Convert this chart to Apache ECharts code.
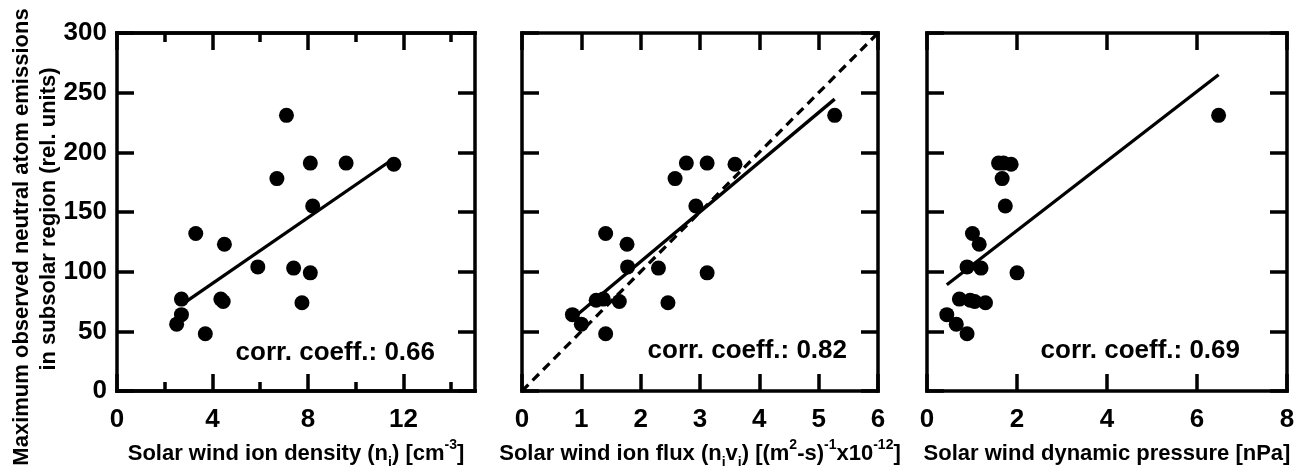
<!DOCTYPE html>
<html>
<head>
<meta charset="utf-8">
<script src="https://cdn.jsdelivr.net/npm/echarts@6/dist/echarts.min.js"></script>
<style>
  html, body { margin: 0; padding: 0; background: #fff; }
  #chart { width: 1302px; height: 466px; }
</style>
</head>
<body>
<div id="chart"></div>
<script>
// Maximum ENA emissions vs. three solar wind parameters
const emissionTicks = [0, 50, 100, 150, 200, 250, 300];

// Panel 1: ion density (cm^-3)
const density = [7.1, 8.1, 9.6, 11.6, 6.7, 8.2, 3.3, 4.5, 5.9, 7.4, 8.1, 4.35, 2.7, 4.45, 7.75, 2.7, 2.5, 3.7];
const emissionsDensity = [231, 191, 191, 190, 178, 155, 132, 123, 104, 103, 99, 77, 77, 75, 74, 64, 56, 48];
const densityFit = [[2.68, 72], [11.54, 194]];
const densityLabelTicks = [0, 4, 8, 12];
const densityMinorTicks = [2, 6, 10, 14];

// Panel 2: ion flux ((m^2 s)^-1 x 10^-12)
const flux = [5.27, 2.77, 3.12, 3.59, 2.58, 2.93, 1.41, 1.77, 1.78, 2.30, 3.12, 1.25, 1.37, 1.64, 2.46, 0.85, 1.0, 1.41];
const emissionsFlux = [231, 191, 191, 190, 178, 155, 132, 123, 104, 103, 99, 76, 77, 75, 74, 64, 56, 48];
const fluxFit = [[0.92, 63.5], [5.27, 244.6]];
const fluxUnity = [[0, 0], [6, 300]];
const fluxTicks = [0, 1, 2, 3, 4, 5, 6];

// Panel 3: dynamic pressure (nPa)
const pressure = [6.48, 1.59, 1.70, 1.87, 1.67, 1.74, 1.01, 1.16, 0.89, 1.20, 2.0, 0.72, 0.96, 1.06, 1.30, 0.44, 0.65, 0.89];
const emissionsPressure = [231, 191, 191, 190, 178, 155, 132, 123, 104, 103, 99, 77, 76, 75, 74, 64, 56, 48];
const pressureFit = [[0.44, 89], [6.48, 265]];
const pressureTicks = [0, 2, 4, 6, 8];

const corrCoeffs = ['0.66', '0.82', '0.69'];

const FONT = "'Liberation Sans', Arial, Helvetica, sans-serif";
const BLACK = '#000';
const LINE_W = 3.5;

const grids = [
  { left: 117, top: 33, width: 358, height: 358, outerBoundsMode: 'none', containLabel: false },
  { left: 522, top: 33, width: 356, height: 358, outerBoundsMode: 'none', containLabel: false },
  { left: 927, top: 33, width: 360, height: 358, outerBoundsMode: 'none', containLabel: false }
];

const titleRich = {
  sub: { fontSize: 14, fontWeight: 'bold', fontFamily: FONT, color: BLACK, lineHeight: 14, verticalAlign: 'bottom' },
  sup: { fontSize: 14, fontWeight: 'bold', fontFamily: FONT, color: BLACK, lineHeight: 14, verticalAlign: 'top' }
};

function xAxis(g, position, max, ticks, len, labels, name) {
  return {
    type: 'value', gridIndex: g, position: position, min: 0, max: max,
    axisLine: { show: true, onZero: false, lineStyle: { color: BLACK, width: LINE_W, cap: 'square' } },
    axisTick: { show: true, inside: true, length: len, customValues: ticks, lineStyle: { color: BLACK, width: LINE_W } },
    axisLabel: labels ? {
      show: true, customValues: labels, margin: 16, fontSize: 26, fontWeight: 'bold',
      fontFamily: FONT, color: BLACK, hideOverlap: false
    } : { show: false },
    splitLine: { show: false },
    name: name || '', nameLocation: 'middle', nameGap: 46,
    nameTextStyle: { fontSize: 22, fontWeight: 'bold', fontFamily: FONT, color: BLACK, lineHeight: 32, rich: titleRich }
  };
}

function yAxis(g, position, labels) {
  return {
    type: 'value', gridIndex: g, position: position, min: 0, max: 300,
    axisLine: { show: true, onZero: false, lineStyle: { color: BLACK, width: LINE_W, cap: 'square' } },
    axisTick: { show: true, inside: true, length: 17, customValues: emissionTicks, lineStyle: { color: BLACK, width: LINE_W } },
    axisLabel: labels ? {
      show: true, customValues: emissionTicks, margin: 10, fontSize: 26, fontWeight: 'bold',
      fontFamily: FONT, color: BLACK
    } : { show: false },
    splitLine: { show: false }
  };
}

const xAxes = [
  // panel 1
  xAxis(0, 'bottom', 15, densityLabelTicks, 17, densityLabelTicks, 'Solar wind ion density (n{sub|i}) [cm{sup|-3}]'),
  xAxis(0, 'bottom', 15, densityMinorTicks, 9, null),
  xAxis(0, 'top', 15, densityLabelTicks, 17, null),
  xAxis(0, 'top', 15, densityMinorTicks, 9, null),
  // panel 2
  xAxis(1, 'bottom', 6, fluxTicks, 17, fluxTicks, 'Solar wind ion flux (n{sub|i}v{sub|i}) [(m{sup|2}-s){sup|-1}x10{sup|-12}]'),
  xAxis(1, 'top', 6, fluxTicks, 17, null),
  // panel 3
  xAxis(2, 'bottom', 8, pressureTicks, 17, pressureTicks, 'Solar wind dynamic pressure [nPa]'),
  xAxis(2, 'top', 8, pressureTicks, 17, null)
];

const yAxes = [
  yAxis(0, 'left', true), yAxis(0, 'right', false),
  yAxis(1, 'left', false), yAxis(1, 'right', false),
  yAxis(2, 'left', false), yAxis(2, 'right', false)
];

function pairs(xs, ys) { return xs.map((x, i) => [x, ys[i]]); }

function line(xi, yi, data, dashed) {
  return {
    type: 'line', xAxisIndex: xi, yAxisIndex: yi, data: data, symbol: 'none',
    lineStyle: { color: BLACK, width: 3.3, type: dashed ? [9, 6] : 'solid' },
    silent: true, animation: false, z: 2
  };
}

function dots(xi, yi, data) {
  return {
    type: 'scatter', xAxisIndex: xi, yAxisIndex: yi, data: data,
    symbol: 'circle', symbolSize: 15, itemStyle: { color: BLACK, opacity: 1 },
    animation: false, z: 3
  };
}

const series = [
  line(0, 0, densityFit, false),
  dots(0, 0, pairs(density, emissionsDensity)),
  line(4, 2, fluxUnity, true),
  line(4, 2, fluxFit, false),
  dots(4, 2, pairs(flux, emissionsFlux)),
  line(6, 4, pressureFit, false),
  dots(6, 4, pairs(pressure, emissionsPressure))
];

const corrPos = [[435, 353], [847, 351], [1240, 351]];
const graphic = corrCoeffs.map((c, i) => ({
  type: 'text', x: corrPos[i][0], y: corrPos[i][1], z: 10,
  style: {
    text: 'corr. coeff.: ' + c, font: 'bold 26px ' + FONT, fill: BLACK,
    textAlign: 'right', textVerticalAlign: 'middle'
  }
}));
graphic.push({
  type: 'text', x: 22, y: 237, rotation: Math.PI / 2, z: 10,
  style: {
    text: 'Maximum observed neutral atom emissions', font: 'bold 22px ' + FONT, fill: BLACK,
    textAlign: 'center', textVerticalAlign: 'middle'
  }
});
graphic.push({
  type: 'text', x: 49, y: 219, rotation: Math.PI / 2, z: 10,
  style: {
    text: 'in subsolar region (rel. units)', font: 'bold 22px ' + FONT, fill: BLACK,
    textAlign: 'center', textVerticalAlign: 'middle'
  }
});

const chart = echarts.init(document.getElementById('chart'), null, { renderer: 'canvas' });
chart.setOption({
  animation: false,
  backgroundColor: '#fff',
  grid: grids,
  xAxis: xAxes,
  yAxis: yAxes,
  series: series,
  graphic: graphic
});
</script>
</body>
</html>
